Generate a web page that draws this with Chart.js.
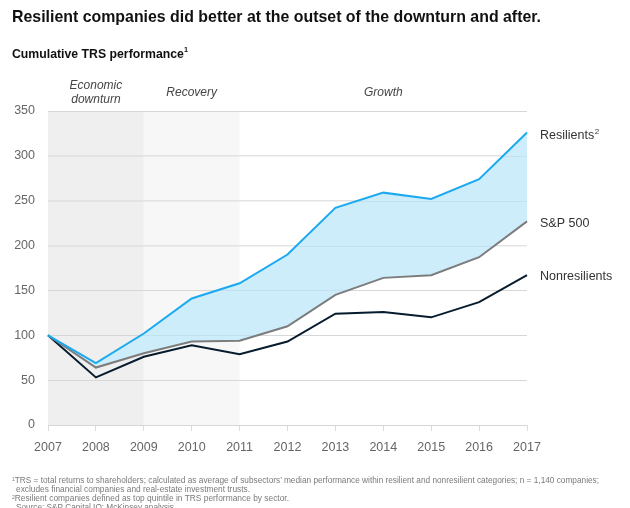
<!DOCTYPE html>
<html><head><meta charset="utf-8">
<script src="https://cdn.jsdelivr.net/npm/chart.js@4/dist/chart.umd.min.js"></script>
<style>
html,body{margin:0;padding:0;background:#fff;width:630px;height:508px;overflow:hidden;font-family:"Liberation Sans",Arial,sans-serif;}
#wrap{position:absolute;left:0;top:0;width:630px;height:508px;}
canvas{position:absolute;left:0;top:0;}
.t{position:absolute;white-space:nowrap;transform-origin:0 0;}
#title{left:12px;top:7px;font-size:17px;font-weight:bold;color:#111;}
#sub{left:12px;top:46px;font-size:13px;font-weight:bold;color:#111;}
.fn{left:12px;font-size:9px;line-height:10px;color:#7a7a7a;}
sup{font-size:60%;vertical-align:top;position:relative;top:-1px;}
</style></head>
<body><div id="wrap">
<canvas id="c" width="630" height="508"></canvas>
<div class="t" id="title" data-w="529">Resilient companies did better at the outset of the downturn and after.</div>
<div class="t" id="sub" data-w="176">Cumulative TRS performance<sup>1</sup></div>
<div class="t fn" style="top:475px" data-w="587"><sup>1</sup>TRS = total returns to shareholders; calculated as average of subsectors’ median performance within resilient and nonresilient categories; n = 1,140 companies;</div>
<div class="t fn" style="top:484px;left:16px" data-w="234">excludes financial companies and real-estate investment trusts.</div>
<div class="t fn" style="top:493px" data-w="277"><sup>2</sup>Resilient companies defined as top quintile in TRS performance by sector.</div>
<div class="t fn" style="top:502px;left:16px" data-w="158">Source: S&amp;P Capital IQ; McKinsey analysis</div>
</div>
<script>
const years = ['2007','2008','2009','2010','2011','2012','2013','2014','2015','2016','2017'];
const resilients = [100, 69, 102, 141, 158, 190, 242, 259, 252, 274, 326];
const sp500 = [100, 64, 80, 93, 94, 110, 145, 164, 167, 187, 227];
const nonresilients = [100, 53, 76, 89, 79, 93, 124, 126, 120, 137, 167];
const yTicks = [0, 50, 100, 150, 200, 250, 300, 350];
const phases = [
  {label:['Economic','downturn'], from:0, to:2, color:'#efefef'},
  {label:['Recovery'], from:2, to:4, color:'#f7f7f7'},
  {label:['Growth'], from:4, to:10, color:null}
];
const seriesLabels = [
  {text:'Resilients', sup:'2', value:326},
  {text:'S&P 500', sup:'', value:227},
  {text:'Nonresilients', sup:'', value:167}
];

document.querySelectorAll('.t').forEach(el=>{
  const w = +el.dataset.w; const cur = el.getBoundingClientRect().width;
  if (w && cur) el.style.transform = 'scaleX(' + (w/cur) + ')';
});

const FONT = '"Liberation Sans", Arial, sans-serif';

const bandPlugin = {
  id:'bands',
  beforeDraw(chart){
    const {ctx, chartArea:a, scales:{x}} = chart;
    ctx.save();
    phases.forEach(p=>{
      const x0 = x.getPixelForValue(p.from), x1 = x.getPixelForValue(p.to);
      if (p.color){ ctx.fillStyle = p.color; ctx.fillRect(x0, a.top, x1-x0, a.bottom-a.top); }
    });
    ctx.restore();
  },
  beforeDatasetsDraw(chart){
    // faint gridlines over the shaded gap, as in the reference
    const {ctx, chartArea:a, scales:{y}} = chart;
    ctx.save();
    ctx.strokeStyle = 'rgba(0,0,0,0.05)';
    ctx.lineWidth = 1;
    yTicks.forEach(v=>{
      const py = Math.round(y.getPixelForValue(v)) + 0.5;
      ctx.beginPath(); ctx.moveTo(a.left, py); ctx.lineTo(a.right, py); ctx.stroke();
    });
    ctx.restore();
  },
  afterDraw(chart){
    const {ctx, chartArea:a, scales:{x,y}} = chart;
    ctx.save();
    ctx.font = 'italic 12px ' + FONT;
    ctx.fillStyle = '#444';
    ctx.textAlign = 'center';
    ctx.textBaseline = 'middle';
    phases.forEach(p=>{
      const cx = (x.getPixelForValue(p.from) + x.getPixelForValue(p.to))/2;
      if (p.label.length === 2){
        ctx.fillText(p.label[0], cx, 86);
        ctx.fillText(p.label[1], cx, 100);
      } else {
        ctx.fillText(p.label[0], cx, 93);
      }
    });
    ctx.fillStyle = '#333';
    ctx.textAlign = 'left';
    const offs = [1, 0, -1];
    seriesLabels.forEach((s,i)=>{
      const py = y.getPixelForValue(s.value) + 2 + offs[i];
      ctx.font = '12.5px ' + FONT;
      ctx.fillText(s.text, a.right + 13, py);
      if (s.sup){
        const w = ctx.measureText(s.text).width;
        ctx.font = '8px ' + FONT;
        ctx.fillText(s.sup, a.right + 13 + w + 0.5, py - 4);
      }
    });
    ctx.restore();
  }
};

new Chart(document.getElementById('c'), {
  type:'line',
  data:{
    labels: years,
    datasets:[
      {label:'Resilients', data:resilients, borderColor:'#1ba9ef', backgroundColor:'#cdedfb', fill:'+1', borderWidth:2, pointRadius:0, tension:0},
      {label:'S&P 500', data:sp500, borderColor:'#7c7c7c', borderWidth:2, pointRadius:0, fill:false, tension:0},
      {label:'Nonresilients', data:nonresilients, borderColor:'#061c2e', borderWidth:2, pointRadius:0, fill:false, tension:0}
    ]
  },
  options:{
    responsive:false, animation:false,
    layout:{padding:{top:111, right:103, left:0, bottom:0}},
    plugins:{legend:{display:false}, tooltip:{enabled:false}, filler:{drawTime:'beforeDatasetsDraw'}},
    scales:{
      x:{
        offset:false,
        grid:{drawOnChartArea:false, drawTicks:true, tickLength:6, color:'#dddddd'},
        border:{display:false},
        ticks:{font:{family:FONT, size:12.5}, color:'#666', padding:9, maxRotation:0, autoSkip:false},
        afterFit(s){ s.height = 83; }
      },
      y:{
        min:0, max:350,
        afterBuildTicks(s){ s.ticks = yTicks.map(v=>({value:v})); },
        grid:{color:'#e3e3e3', lineWidth:1, drawTicks:false},
        border:{display:false},
        ticks:{font:{family:FONT, size:12.5}, color:'#666', padding:13},
        afterFit(s){ s.width = 48; }
      }
    }
  },
  plugins:[bandPlugin]
});
</script>
</body></html>
